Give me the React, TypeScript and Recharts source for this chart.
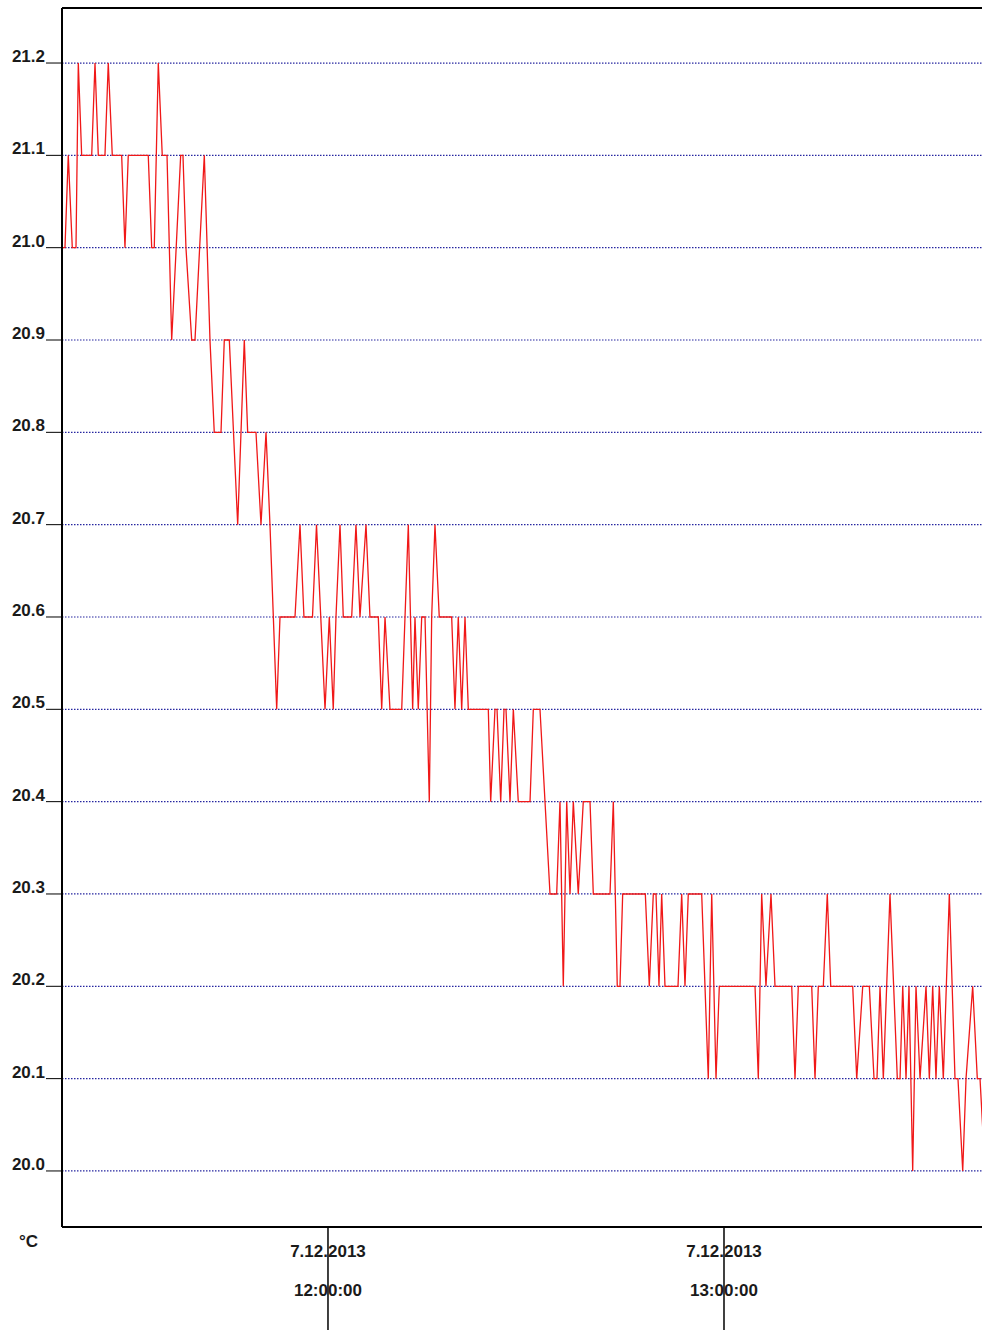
import React from "react";
import {
  LineChart,
  Line,
  XAxis,
  YAxis,
  CartesianGrid,
  ReferenceLine,
} from "recharts";

/* ---------- data (minutes relative to 7.12.2013 12:00:00, °C) ---------- */
const minutes = [
  -40.3, -39.85, -39.35, -38.74, -38.18, -37.83, -37.32, -35.8, -35.3, -34.8,
  -33.79, -33.29, -32.68, -31.26, -30.76, -30.26, -27.23, -26.71, -26.32, -25.71,
  -25.11, -24.39, -23.68, -22.32, -21.97, -21.52, -20.65, -20.15, -18.74, -17.88,
  -17.23, -16.21, -15.71, -14.95, -13.68, -12.68, -12.17, -10.91, -10.15, -9.39,
  -8.79, -7.77, -7.27, -5.0, -4.24, -3.64, -2.35, -1.74, -0.45, 0.2,
  0.8, 1.21, 1.82, 2.32, 3.59, 4.24, 4.85, 5.76, 6.36, 7.62,
  8.14, 8.64, 9.39, 11.17, 12.17, 12.83, 13.18, 13.68, 14.2, 14.7,
  15.35, 15.71, 16.21, 16.86, 18.74, 19.24, 19.74, 20.26, 20.76, 21.26,
  24.29, 24.65, 25.3, 25.61, 26.17, 26.67, 26.97, 27.58, 28.08, 28.83,
  30.61, 31.11, 32.12, 33.64, 34.65, 35.15, 35.65, 36.17, 36.67, 37.17,
  37.92, 38.68, 39.7, 40.2, 42.73, 43.23, 43.83, 44.24, 44.65, 48.08,
  48.68, 49.29, 49.7, 50.15, 50.56, 51.06, 53.03, 53.59, 54.09, 54.59,
  56.62, 57.62, 58.14, 58.79, 59.29, 64.7, 65.2, 65.71, 66.36, 67.12,
  67.73, 70.26, 70.76, 71.26, 73.29, 73.79, 74.29, 75.05, 75.65, 76.17,
  79.5, 80.11, 81.02, 82.02, 82.73, 83.18, 83.64, 84.14, 85.15, 86.26,
  86.67, 87.08, 87.58, 88.03, 88.59, 89.09, 89.7, 90.61, 91.11, 91.62,
  92.12, 92.62, 93.23, 94.14, 95.0, 95.45, 96.17, 96.67, 97.68, 98.38,
  98.79, 99.55,
];

const temps = [
  21.0, 21.0, 21.1, 21.0, 21.0, 21.2, 21.1, 21.1, 21.2, 21.1,
  21.1, 21.2, 21.1, 21.1, 21.0, 21.1, 21.1, 21.0, 21.0, 21.2,
  21.1, 21.1, 20.9, 21.1, 21.1, 21.0, 20.9, 20.9, 21.1, 20.9,
  20.8, 20.8, 20.9, 20.9, 20.7, 20.9, 20.8, 20.8, 20.7, 20.8,
  20.7, 20.5, 20.6, 20.6, 20.7, 20.6, 20.6, 20.7, 20.5, 20.6,
  20.5, 20.6, 20.7, 20.6, 20.6, 20.7, 20.6, 20.7, 20.6, 20.6,
  20.5, 20.6, 20.5, 20.5, 20.7, 20.5, 20.6, 20.5, 20.6, 20.6,
  20.4, 20.6, 20.7, 20.6, 20.6, 20.5, 20.6, 20.5, 20.6, 20.5,
  20.5, 20.4, 20.5, 20.5, 20.4, 20.5, 20.5, 20.4, 20.5, 20.4,
  20.4, 20.5, 20.5, 20.3, 20.3, 20.4, 20.2, 20.4, 20.3, 20.4,
  20.3, 20.4, 20.4, 20.3, 20.3, 20.4, 20.2, 20.2, 20.3, 20.3,
  20.2, 20.3, 20.3, 20.2, 20.3, 20.2, 20.2, 20.3, 20.2, 20.3,
  20.3, 20.1, 20.3, 20.1, 20.2, 20.2, 20.1, 20.3, 20.2, 20.3,
  20.2, 20.2, 20.1, 20.2, 20.2, 20.1, 20.2, 20.2, 20.3, 20.2,
  20.2, 20.1, 20.2, 20.2, 20.1, 20.1, 20.2, 20.1, 20.3, 20.1,
  20.1, 20.2, 20.1, 20.2, 20.0, 20.2, 20.1, 20.2, 20.1, 20.2,
  20.1, 20.2, 20.1, 20.3, 20.1, 20.1, 20.0, 20.1, 20.2, 20.1,
  20.1, 20.0,
];

const yTicks = [20.0, 20.1, 20.2, 20.3, 20.4, 20.5, 20.6, 20.7, 20.8, 20.9, 21.0, 21.1, 21.2];
const xTicks = [0, 60];
const xTickDate = "7.12.2013";
const xTickTimes: Record<number, string> = { 0: "12:00:00", 60: "13:00:00" };

const X_DOMAIN: [number, number] = [-40.3, 101.06];
const Y_DOMAIN: [number, number] = [19.9393, 21.2596];

const chartData = minutes.map((m, i) => ({ t: m, temp: temps[i] }));

const FONT = '"Liberation Sans", Arial, sans-serif';

/* ---------- ticks ---------- */
function YTick(props: any) {
  const { x, y, payload } = props;
  return (
    <text
      x={x}
      y={y - 1}
      textAnchor="end"
      fontFamily={FONT}
      fontWeight="bold"
      fontSize={17}
      fill="#1a1a1a"
    >
      {payload.value.toFixed(1)}
    </text>
  );
}

function XTick(props: any) {
  const { x, y, payload } = props;
  return (
    <g>
      <line x1={x} y1={y} x2={x} y2={y + 110} stroke="#000" strokeWidth={1.5} />
      <text x={x} y={y + 30} textAnchor="middle" fontFamily={FONT} fontWeight="bold" fontSize={17} fill="#1a1a1a">
        {xTickDate}
      </text>
      <text x={x} y={y + 69} textAnchor="middle" fontFamily={FONT} fontWeight="bold" fontSize={17} fill="#1a1a1a">
        {xTickTimes[payload.value]}
      </text>
    </g>
  );
}

export default function App() {
  return (
    <div style={wrapStyle}>
      <LineChart
        width={1000}
        height={1330}
        data={chartData}
        margin={{ top: 8, right: 5, bottom: 0, left: 0 }}
      >
        <CartesianGrid
          horizontal={true}
          vertical={false}
          stroke="#2626a0"
          strokeWidth={1.2}
          strokeDasharray="1.5 1.5"
        />
        <XAxis
          dataKey="t"
          type="number"
          domain={X_DOMAIN}
          ticks={xTicks}
          height={103}
          tick={<XTick />}
          tickLine={false}
          tickSize={0}
          tickMargin={0}
          axisLine={{ stroke: "#000", strokeWidth: 2 }}
          interval={0}
        />
        <YAxis
          type="number"
          domain={Y_DOMAIN}
          ticks={yTicks}
          width={62}
          tick={<YTick />}
          tickSize={16}
          tickMargin={1}
          tickLine={{ stroke: "#000", strokeWidth: 1 }}
          axisLine={{ stroke: "#000", strokeWidth: 2 }}
          interval={0}
        />
        <ReferenceLine y={Y_DOMAIN[1]} stroke="#000" strokeWidth={2} />
        <Line
          type="linear"
          dataKey="temp"
          stroke="#f01818"
          strokeWidth={1.3}
          dot={false}
          isAnimationActive={false}
        />
      </LineChart>
      <div style={unitStyle}>°C</div>
    </div>
  );
}

const wrapStyle: React.CSSProperties = {
  position: "absolute",
  left: 0,
  top: 0,
  width: 982,
  height: 1330,
  overflow: "hidden",
  background: "#fff",
};

const unitStyle: React.CSSProperties = {
  position: "absolute",
  left: 19,
  top: 1233,
  fontFamily: FONT,
  fontWeight: "bold",
  fontSize: 17,
  lineHeight: "17px",
  color: "#1a1a1a",
};
